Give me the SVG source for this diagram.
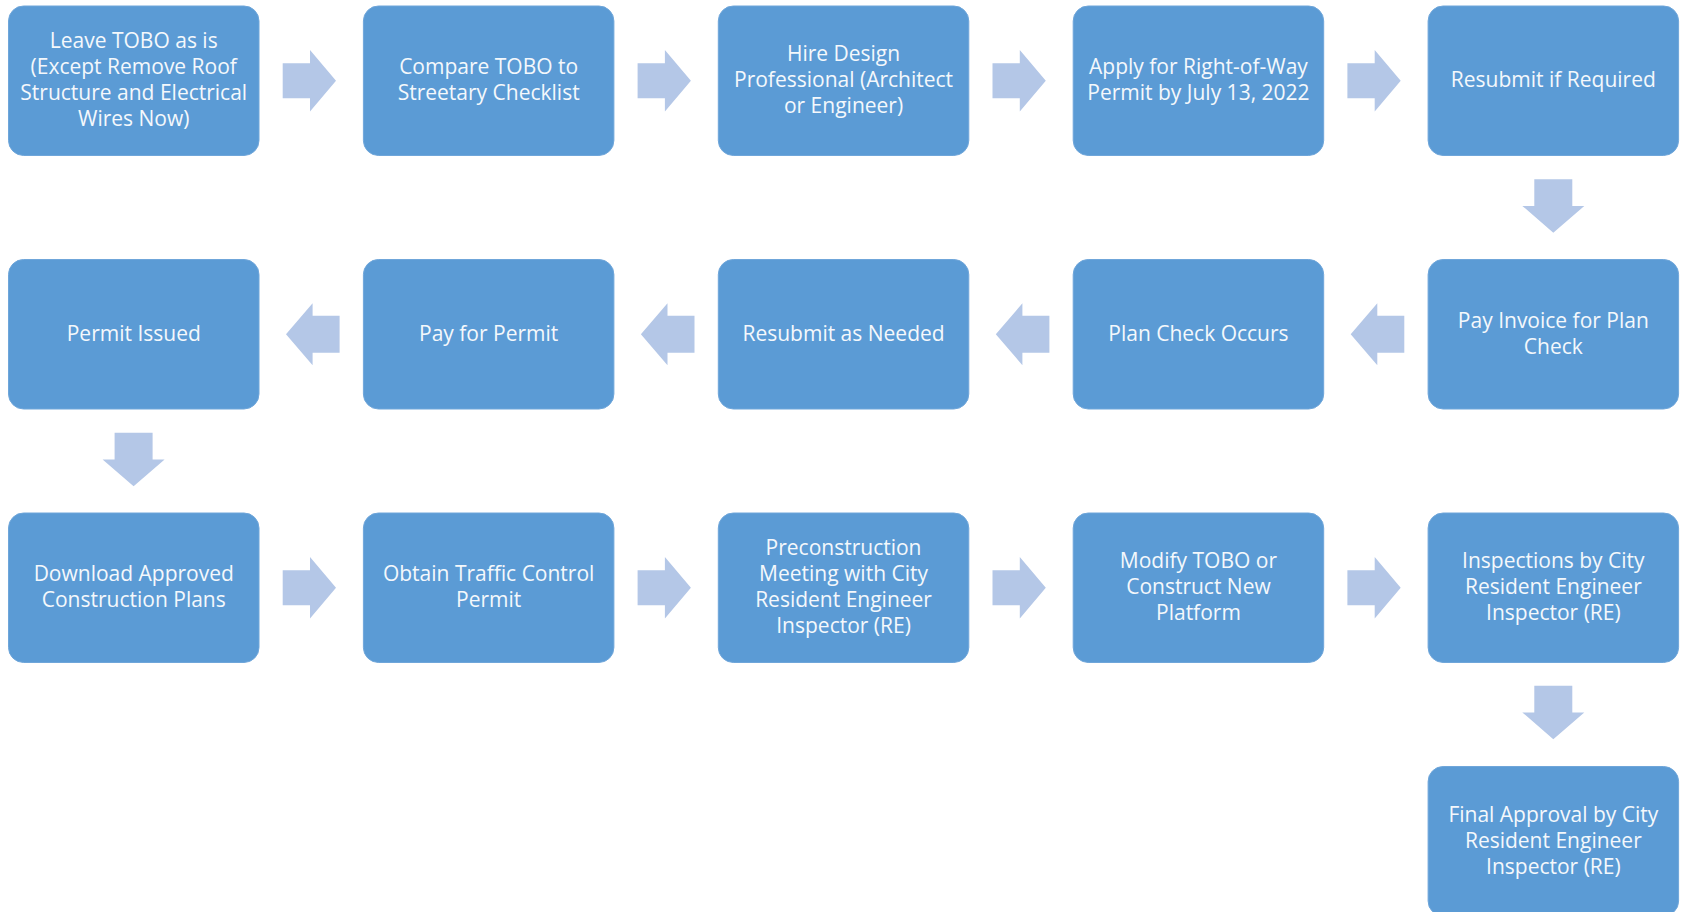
<svg xmlns="http://www.w3.org/2000/svg" width="1682" height="912" viewBox="0 0 1682 912">
<style>
.box{fill:#5b9bd5;stroke:#6fa6da;stroke-width:1}
.t{font-family:"Open Sans","Liberation Sans",sans-serif;font-size:21px;fill:#f4f8fc;text-anchor:middle}
.ar{fill:#b4c7e7}
</style>
<defs>
<path id="ra" d="M0,-17.5 H27.3 V-30.8 L53.3,0 L27.3,30.8 V17.5 H0 Z"/>
<path id="la" d="M0,0 L26.6,-31 V-18.5 H53.6 V18.5 H26.6 V31 Z"/>
<path id="da" d="M-19,0 H19 V26.7 H31 L0,53.5 L-31,26.7 H-19 Z"/>
</defs>
<rect width="1682" height="912" fill="#ffffff"/>
<g id="connectors" class="ar">
<use href="#ra" x="282.7" y="80.75"/>
<use href="#ra" x="637.6" y="80.75"/>
<use href="#ra" x="992.5" y="80.75"/>
<use href="#ra" x="1347.4" y="80.75"/>
<use href="#da" x="1553.3" y="179.2"/>
<use href="#la" x="1350.7" y="334.25"/>
<use href="#la" x="995.8" y="334.25"/>
<use href="#la" x="640.9" y="334.25"/>
<use href="#la" x="286" y="334.25"/>
<use href="#da" x="133.6" y="432.7"/>
<use href="#ra" x="282.7" y="587.75"/>
<use href="#ra" x="637.6" y="587.75"/>
<use href="#ra" x="992.5" y="587.75"/>
<use href="#ra" x="1347.4" y="587.75"/>
<use href="#da" x="1553.3" y="685.7"/>
</g>
<g id="n1"><rect class="box" x="8.5" y="6" width="250.5" height="149.5" rx="15"/>
<text class="t"><tspan x="133.75" y="48.25">Leave TOBO as is</tspan><tspan x="133.75" y="74.25">(Except Remove Roof</tspan><tspan x="133.75" y="100.25">Structure and Electrical</tspan><tspan x="133.75" y="126.25">Wires Now)</tspan></text></g>
<g id="n2"><rect class="box" x="363.4" y="6" width="250.5" height="149.5" rx="15"/>
<text class="t"><tspan x="488.65" y="74.25">Compare TOBO to</tspan><tspan x="488.65" y="100.25">Streetary Checklist</tspan></text></g>
<g id="n3"><rect class="box" x="718.3" y="6" width="250.5" height="149.5" rx="15"/>
<text class="t"><tspan x="843.55" y="61.25">Hire Design</tspan><tspan x="843.55" y="87.25">Professional (Architect</tspan><tspan x="843.55" y="113.25">or Engineer)</tspan></text></g>
<g id="n4"><rect class="box" x="1073.2" y="6" width="250.5" height="149.5" rx="15"/>
<text class="t"><tspan x="1198.45" y="74.25">Apply for Right-of-Way</tspan><tspan x="1198.45" y="100.25">Permit by July 13, 2022</tspan></text></g>
<g id="n5"><rect class="box" x="1428.1" y="6" width="250.5" height="149.5" rx="15"/>
<text class="t"><tspan x="1553.35" y="87.25">Resubmit if Required</tspan></text></g>
<g id="n6"><rect class="box" x="1428.1" y="259.5" width="250.5" height="149.5" rx="15"/>
<text class="t"><tspan x="1553.35" y="327.75">Pay Invoice for Plan</tspan><tspan x="1553.35" y="353.75">Check</tspan></text></g>
<g id="n7"><rect class="box" x="1073.2" y="259.5" width="250.5" height="149.5" rx="15"/>
<text class="t"><tspan x="1198.45" y="340.75">Plan Check Occurs</tspan></text></g>
<g id="n8"><rect class="box" x="718.3" y="259.5" width="250.5" height="149.5" rx="15"/>
<text class="t"><tspan x="843.55" y="340.75">Resubmit as Needed</tspan></text></g>
<g id="n9"><rect class="box" x="363.4" y="259.5" width="250.5" height="149.5" rx="15"/>
<text class="t"><tspan x="488.65" y="340.75">Pay for Permit</tspan></text></g>
<g id="n10"><rect class="box" x="8.5" y="259.5" width="250.5" height="149.5" rx="15"/>
<text class="t"><tspan x="133.75" y="340.75">Permit Issued</tspan></text></g>
<g id="n11"><rect class="box" x="8.5" y="513" width="250.5" height="149.5" rx="15"/>
<text class="t"><tspan x="133.75" y="581.25">Download Approved</tspan><tspan x="133.75" y="607.25">Construction Plans</tspan></text></g>
<g id="n12"><rect class="box" x="363.4" y="513" width="250.5" height="149.5" rx="15"/>
<text class="t"><tspan x="488.65" y="581.25">Obtain Traffic Control</tspan><tspan x="488.65" y="607.25">Permit</tspan></text></g>
<g id="n13"><rect class="box" x="718.3" y="513" width="250.5" height="149.5" rx="15"/>
<text class="t"><tspan x="843.55" y="555.25">Preconstruction</tspan><tspan x="843.55" y="581.25">Meeting with City</tspan><tspan x="843.55" y="607.25">Resident Engineer</tspan><tspan x="843.55" y="633.25">Inspector (RE)</tspan></text></g>
<g id="n14"><rect class="box" x="1073.2" y="513" width="250.5" height="149.5" rx="15"/>
<text class="t"><tspan x="1198.45" y="568.25">Modify TOBO or</tspan><tspan x="1198.45" y="594.25">Construct New</tspan><tspan x="1198.45" y="620.25">Platform</tspan></text></g>
<g id="n15"><rect class="box" x="1428.1" y="513" width="250.5" height="149.5" rx="15"/>
<text class="t"><tspan x="1553.35" y="568.25">Inspections by City</tspan><tspan x="1553.35" y="594.25">Resident Engineer</tspan><tspan x="1553.35" y="620.25">Inspector (RE)</tspan></text></g>
<g id="n16"><rect class="box" x="1428.1" y="766.5" width="250.5" height="149.5" rx="15"/>
<text class="t"><tspan x="1553.35" y="821.75">Final Approval by City</tspan><tspan x="1553.35" y="847.75">Resident Engineer</tspan><tspan x="1553.35" y="873.75">Inspector (RE)</tspan></text></g>
</svg>
